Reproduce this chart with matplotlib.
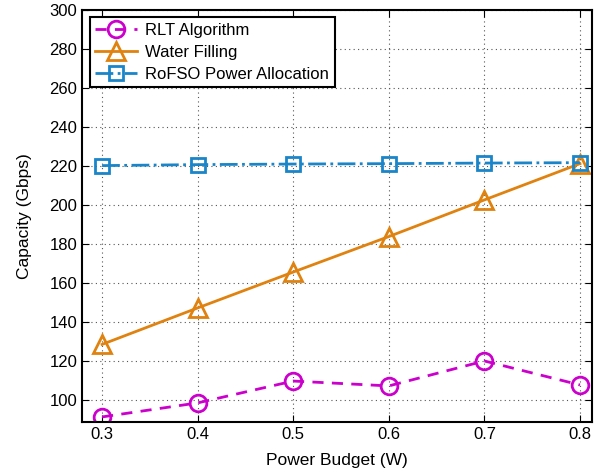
import matplotlib.pyplot as plt
import numpy as np

power = [0.3, 0.4, 0.5, 0.6, 0.7, 0.8]
rlt = [91.3, 98.5, 109.7, 107.2, 120.0, 107.7]
water = [128.5, 147.2, 165.6, 183.8, 202.6, 221.2]
rofso = [220.2, 220.7, 221.0, 221.2, 221.5, 221.7]

plt.rcParams['font.family'] = ['Liberation Sans', 'DejaVu Sans']
fig = plt.figure(figsize=(6.12, 4.76), dpi=100)
ax = fig.add_axes([82/612, 1-422/476, 510/612, 412/476])

ax.plot(power, rlt, '--o', color='#cc00cc', lw=2, ms=12, mfc='none', mew=2,
        dashes=(4, 3), label='RLT Algorithm')
ax.plot(power, water, '-^', color='#e0820f', lw=2, ms=13, mfc='none', mew=2,
        label='Water Filling')
ax.plot(power, rofso, '-.s', color='#1a85c8', lw=2, ms=10, mfc='none', mew=2,
        label='RoFSO Power Allocation')

ax.set_xlim(0.279, 0.8126)
ax.set_ylim(88.7, 300)
ax.set_xticks(power)
ax.set_yticks(np.arange(100, 301, 20))
ax.grid(True, linestyle=(0, (1, 3)), color='#555555', lw=0.8)
ax.tick_params(direction='in', top=True, right=True, labelsize=12, length=5)
for s in ax.spines.values():
    s.set_linewidth(1.5)
ax.set_xlabel('Power Budget (W)', fontsize=12.5, labelpad=8)
ax.set_ylabel('Capacity (Gbps)', fontsize=12.5, labelpad=12)
leg = ax.legend(loc='upper left', fontsize=12, fancybox=False, edgecolor='black',
                framealpha=1, handlelength=2.5, borderaxespad=0.45,
                borderpad=0.35, labelspacing=0.4, handletextpad=0.5)
leg.get_frame().set_linewidth(1.5)

fig.savefig('out.png', dpi=100)
